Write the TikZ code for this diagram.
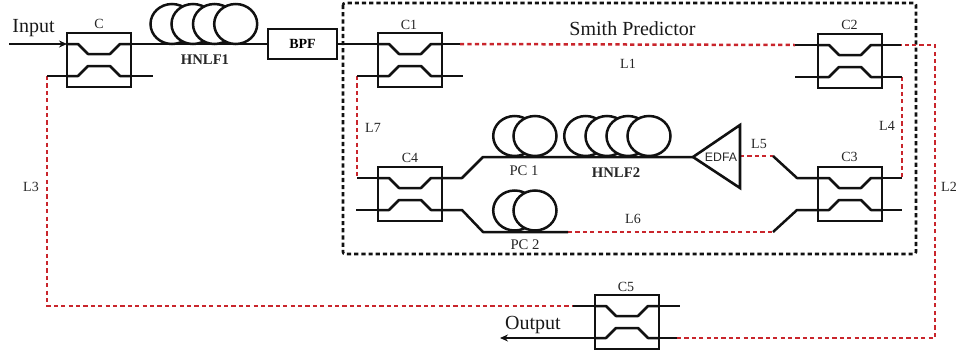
\documentclass[tikz,border=0pt]{standalone}
\usepackage{fontspec}
\setmainfont{Liberation Serif}
\newfontfamily\edfafont{Liberation Sans}
\definecolor{fibrered}{HTML}{C9252C}
\definecolor{boxblack}{HTML}{111111}
\tikzset{
  wire/.style={draw=boxblack,line width=2.5pt,line join=round},
  redwire/.style={draw=fibrered,line width=2.5pt,dash pattern=on 4.2pt off 3.2pt},
  frameline/.style={draw=boxblack,line width=2.6pt,dash pattern=on 4.2pt off 3pt,rounded corners=2pt},
  cbox/.style={draw=boxblack,line width=2.6pt,minimum width=64pt,minimum height=54pt,inner sep=0pt},
  blockbox/.style={draw=boxblack,line width=2.6pt,minimum width=69pt,minimum height=30pt,inner sep=0pt,font=\fontsize{14}{14}\selectfont\bfseries},
  lab/.style={inner sep=0pt,text=black!85,font=\fontsize{14}{14}\selectfont},
  blab/.style={inner sep=0pt,text=black!85,font=\fontsize{14.7}{14.7}\selectfont\bfseries},
  biglab/.style={inner sep=0pt,text=black!90,font=\fontsize{20}{20}\selectfont},
  loopc/.style={draw=boxblack,fill=white,line width=2.5pt,ellipse,minimum width=43pt,minimum height=40pt,inner sep=0pt},
  amp/.style={draw=boxblack,line width=2.6pt,line join=miter}
}
\usetikzlibrary{shapes.geometric,arrows.meta}
% name, cx, cy
\newcommand{\mycoupler}[3]{%
  \node[cbox] (#1) at (#2,#3) {};
  \coordinate (#1-tl) at (#2-32,#3-16);
  \coordinate (#1-tr) at (#2+32,#3-16);
  \coordinate (#1-bl) at (#2-32,#3+16);
  \coordinate (#1-br) at (#2+32,#3+16);
  \draw[wire] (#1-tl) -- ++(11,0) -- ++(10,10) -- ++(22,0) -- ++(10,-10) -- (#1-tr);
  \draw[wire] (#1-bl) -- ++(11,0) -- ++(10,-10) -- ++(22,0) -- ++(10,10) -- (#1-br);
}
\begin{document}
\begin{tikzpicture}[x=1pt,y=-1pt]
\useasboundingbox (0,0) rectangle (959,354);
% frame
\draw[frameline] (343,3) rectangle (916,254);
% couplers
\mycoupler{C}{99}{60}
\mycoupler{Ca}{410}{60}
\mycoupler{Cb}{850}{61}
\mycoupler{Cc}{850}{194}
\mycoupler{Cd}{410}{194}
\mycoupler{Ce}{627}{322}
% BPF and EDFA
\node[blockbox] (bpf) at (302.5,44) {BPF};
\coordinate (edfatip) at (693,157);
\coordinate (edfatop) at (740,125);
\coordinate (edfabot) at (740,188);
\coordinate (edfaout) at (740,156);
% free points
\coordinate (inp) at (9,44);
\coordinate (outp) at (500,338);
\coordinate (Cstub) at (153,76);
\coordinate (Cleft) at (47,76);
\coordinate (Ctmp) at (47,306);
\coordinate (Cetl) at (573,306);
\coordinate (Cestub) at (680,306);
\coordinate (Cer) at (677,338);
\coordinate (corbr) at (935,338);
\coordinate (cortr) at (935,45);
\coordinate (Cbr) at (901,45);
\coordinate (Car) at (460,44);
\coordinate (Cbl) at (795,45);
\coordinate (Castub) at (463,76);
\coordinate (Caleft) at (357,76);
\coordinate (Cdleft) at (357,178);
\coordinate (Cbstub) at (795,77);
\coordinate (Cbrr) at (902,77);
\coordinate (Ccrr) at (902,178);
\coordinate (Ccstub) at (902,210);
\coordinate (Cdstub) at (356,210);
\coordinate (Cdr) at (462,178);
\coordinate (Cdtop) at (483,157);
\coordinate (Cdrb) at (462,210);
\coordinate (Cdbot) at (483,232);
\coordinate (pctwoend) at (568,232);
\coordinate (Ccl) at (797,178);
\coordinate (Ccbl) at (797,210);
\coordinate (Cctop) at (773,156);
\coordinate (Ccbot) at (773,232);
% red runs
\draw[redwire] (Cleft) -- (Ctmp) -- (Cetl);
\draw[redwire] (Cer) -- (corbr) -- (cortr) -- (Cbr);
\draw[redwire] (Car) -- (Cbl);
\draw[redwire] (Caleft) -- (Cdleft);
\draw[redwire] (Cbrr) -- (Ccrr);
\draw[redwire] (edfaout) -- (Cctop);
\draw[redwire] (pctwoend) -- (Ccbot);
% black runs
\draw[wire,-{Stealth[length=8pt,width=7pt]}] (inp) -- (C-tl);
\draw[wire] (C-tr) -- (bpf.west |- C-tr);
\draw[wire] (bpf.east |- Ca-tl) -- (Ca-tl);
\draw[wire] (C-br) -- (Cstub);
\draw[wire] (Cleft) -- (C-bl);
\draw[wire] (Cetl) -- (Ce-tl);
\draw[wire] (Ce-tr) -- (Cestub);
\draw[wire] (Ce-br) -- (Cer);
\draw[wire,-{Stealth[length=8pt,width=7pt]}] (Ce-bl) -- (outp);
\draw[wire] (Ca-tr) -- (Car);
\draw[wire] (Ca-br) -- (Castub);
\draw[wire] (Caleft) -- (Ca-bl);
\draw[wire] (Cdleft) -- (Cd-tl);
\draw[wire] (Cd-bl) -- (Cdstub);
\draw[wire] (Cbl) -- (Cb-tl);
\draw[wire] (Cb-tr) -- (Cbr);
\draw[wire] (Cbstub) -- (Cb-bl);
\draw[wire] (Cb-br) -- (Cbrr);
\draw[wire] (Cc-tr) -- (Ccrr);
\draw[wire] (Cc-br) -- (Ccstub);
\draw[wire] (Cd-tr) -- (Cdr) -- (Cdtop) -- (edfatip);
\draw[wire] (Cd-br) -- (Cdrb) -- (Cdbot) -- (pctwoend);
\draw[wire] (Cctop) -- (Ccl) -- (Cc-tl);
\draw[wire] (Ccbot) -- (Ccbl) -- (Cc-bl);
% fibre loops
\foreach \n/\px in {a/172,b/193,c/214.5,d/235.7} \node[loopc] (hone\n) at (\px,24) {};
\foreach \n/\px in {a/514.7,b/535} \node[loopc] (pcone\n) at (\px,136) {};
\foreach \n/\px in {a/585.7,b/607,c/628,d/649} \node[loopc] (htwo\n) at (\px,136) {};
\foreach \n/\px in {a/514.7,b/535} \node[loopc] (pctwo\n) at (\px,210.5) {};
% EDFA
\draw[amp] (edfatip) -- (edfatop) -- (edfabot) -- cycle;
\node[inner sep=0pt,text=black!85,font=\edfafont\fontsize{12.3}{12.3}\selectfont] (edfa) at (721,157.5) {EDFA};
% labels
\node[biglab] (tinput) at (33.5,28) {Input};
\node[biglab] (toutput) at (533,325) {Output};
\node[biglab] (tsmith) at (632.5,29) {Smith Predictor};
\node[lab] (tc) at (99,24) {C};
\node[lab] (tca) at (409,25) {C1};
\node[lab] (tcb) at (849.5,25) {C2};
\node[lab] (tcc) at (849.5,157) {C3};
\node[lab] (tcd) at (410,158) {C4};
\node[lab] (tce) at (626,287) {C5};
\node[lab] (tl1) at (628,64) {L1};
\node[lab] (tl2) at (949,187) {L2};
\node[lab] (tl3) at (31,187) {L3};
\node[lab] (tl4) at (887,126) {L4};
\node[lab] (tl5) at (759,144) {L5};
\node[lab] (tl6) at (633,219) {L6};
\node[lab] (tl7) at (373,128) {L7};
\node[lab,font=\fontsize{14.7}{14.7}\selectfont] (tpa) at (524,171) {PC 1};
\node[lab,font=\fontsize{14.7}{14.7}\selectfont] (tpb) at (525,245) {PC 2};
\node[blab] (thb) at (205,60) {HNLF1};
\node[blab] (thc) at (616,173) {HNLF2};
\end{tikzpicture}
\end{document}
